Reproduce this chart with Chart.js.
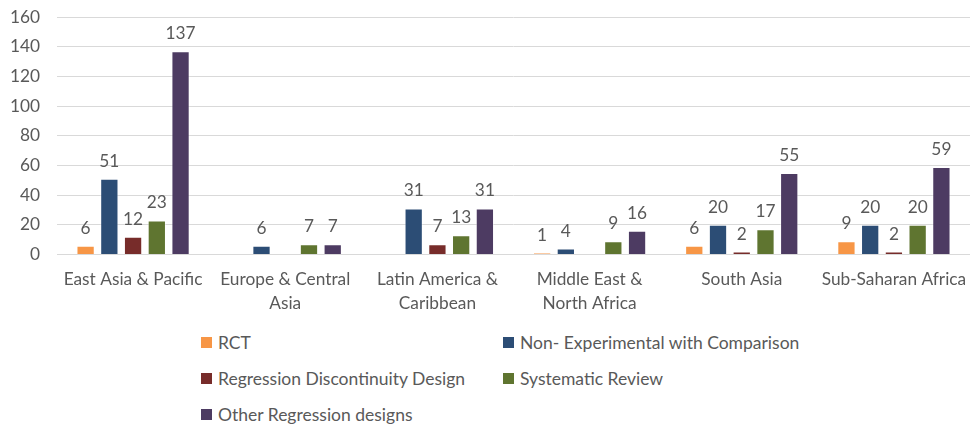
<!DOCTYPE html>
<html>
<head>
<meta charset="utf-8">
<script src="https://cdn.jsdelivr.net/npm/chart.js@4/dist/chart.umd.min.js"></script>
<style>
  html, body { margin: 0; padding: 0; background: #fff; }
  #wrap { position: relative; width: 970px; height: 424px; font-family: Lato, "Open Sans", sans-serif; }
  #box { position: absolute; left: 0; top: 0; width: 970px; height: 329px; }
  .leg { position: absolute; display: flex; align-items: center; font-size: 17.5px; color: #595959; white-space: nowrap; height: 20px; }
  .leg span.sw { display: inline-block; width: 11px; height: 11px; margin-right: 6px; }
</style>
</head>
<body>
<div id="wrap">
  <div id="box"><canvas id="Chart"></canvas></div>
  <div id="legend"></div>
</div>
<script>
// regions along the x axis (wrapped like the original axis labels)
const regions = [
    ["East Asia & Pacific"],
    ["Europe & Central", "Asia"],
    ["Latin America &", "Caribbean"],
    ["Middle East &", "North Africa"],
    ["South Asia"],
    ["Sub-Saharan Africa"]
];

const seriesNames = [
    "RCT",
    "Non- Experimental with Comparison",
    "Regression Discontinuity Design",
    "Systematic Review",
    "Other Regression designs"
];
const seriesColors = ["#F79646", "#2C4D75", "#772C2A", "#5F7530", "#4D3B62"];

// counts per region, null where a region has no studies of that kind
const rct        = [6, null, null, 1, 6, 9];
const nonExp     = [51, 6, 31, 4, 20, 20];
const regDisc    = [12, null, 7, null, 2, 2];
const sysReview  = [23, 7, 13, 9, 17, 20];
const otherReg   = [137, 7, 31, 16, 55, 59];

const yTicks = { min: 0, max: 160, step: 20 };

const allSeries = [rct, nonExp, regDisc, sysReview, otherReg];
const textColor = "#595959";
const fontFamily = "Lato, 'Open Sans', sans-serif";

// writes the value above every bar that has one
const valueLabels = {
    id: "valueLabels",
    afterDatasetsDraw(chart) {
        const ctx = chart.ctx;
        ctx.save();
        ctx.fillStyle = textColor;
        ctx.font = "17.3px " + fontFamily;
        ctx.textAlign = "center";
        ctx.textBaseline = "bottom";
        chart.data.datasets.forEach((ds, i) => {
            chart.getDatasetMeta(i).data.forEach((bar, j) => {
                const v = ds.data[j];
                if (v === null || v === undefined) return;
                ctx.fillText(String(v), bar.x, bar.y - 9);
            });
        });
        ctx.restore();
    }
};

const chart = new Chart(document.getElementById("Chart"), {
    type: "bar",
    data: {
        labels: regions,
        datasets: allSeries.map((vals, i) => ({
            label: seriesNames[i],
            data: vals,
            backgroundColor: seriesColors[i],
            borderColor: "rgba(255,255,255,0.45)",
            borderWidth: 1,
            categoryPercentage: 0.78,
            barPercentage: 0.77
        }))
    },
    options: {
        responsive: true,
        maintainAspectRatio: false,
        animation: false,
        layout: { padding: { left: 0, right: 0, top: 17, bottom: 0 } },
        plugins: {
            legend: { display: false },
            tooltip: { enabled: false }
        },
        scales: {
            x: {
                grid: { display: false, drawTicks: false },
                border: { color: "#D9D9D9", width: 1 },
                ticks: {
                    color: textColor,
                    font: { family: fontFamily, size: 17.3, lineHeight: 1.4 },
                    padding: 13,
                    maxRotation: 0,
                    autoSkip: false
                },
                // plot runs to the right edge, labels may overhang
                afterFit(scale) {
                    scale.paddingLeft = 0;
                    scale.paddingRight = 0;
                }
            },
            y: {
                min: yTicks.min,
                max: yTicks.max,
                grid: { color: "#D9D9D9", lineWidth: 1, drawTicks: false },
                border: { display: false },
                ticks: {
                    stepSize: yTicks.step,
                    color: textColor,
                    font: { family: fontFamily, size: 17.3 },
                    padding: 17
                },
                afterFit(scale) {
                    scale.width = 57;
                    scale.paddingTop = 0;
                    scale.paddingBottom = 0;
                }
            }
        }
    },
    plugins: [valueLabels]
});

// two-column legend under the chart
const legendSpots = [
    [201, 332], [503, 332],
    [201, 368], [503, 368],
    [201, 404]
];
const legend = document.getElementById("legend");
seriesNames.forEach((name, i) => {
    const item = document.createElement("div");
    item.className = "leg";
    item.style.left = legendSpots[i][0] + "px";
    item.style.top = legendSpots[i][1] + "px";
    item.innerHTML = `<span class="sw" style="background:${seriesColors[i]}"></span>${name}`;
    legend.appendChild(item);
});
</script>
</body>
</html>
